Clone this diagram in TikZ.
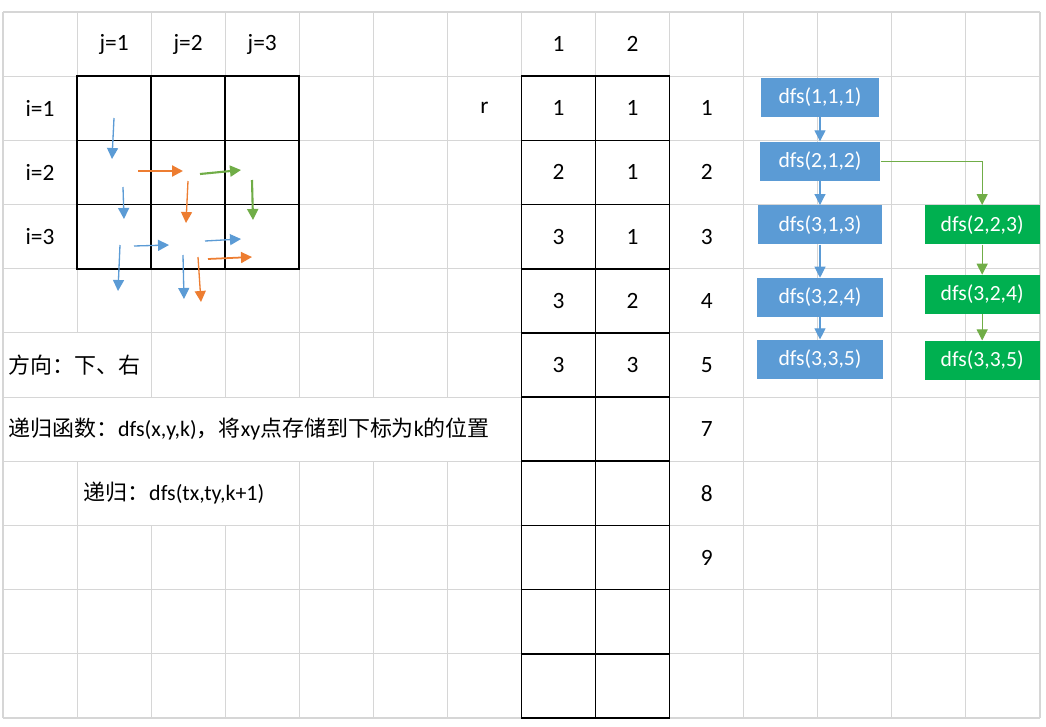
\documentclass[tikz,border=0pt]{standalone}
\usepackage{fontspec}
\setmainfont{Carlito}
\newfontfamily\cjk{Noto Sans CJK SC}
\usetikzlibrary{arrows.meta,positioning}
\definecolor{xlblue}{HTML}{5B9BD5}
\definecolor{xlorange}{HTML}{ED7D31}
\definecolor{xlgreen}{HTML}{70AD47}
\definecolor{boxgreen}{HTML}{00B050}
\definecolor{gridgray}{HTML}{D6D6D6}

\begin{document}
\begin{tikzpicture}[x=0.02cm, y=-0.02cm]
  \tikzset{
    gridline/.style={draw=gridgray, line width=0.6pt},
    tableline/.style={draw=black, line width=0.9pt},
    celltext/.style={inner sep=0pt, font=\fontsize{13.3}{15}\selectfont},
    notetext/.style={inner sep=0pt, anchor=west, font=\fontsize{12.5}{14}\selectfont},
    dfsbox/.style={rectangle, fill=xlblue, text=white, minimum height=0.78cm, inner sep=0pt, font=\fontsize{12.3}{14}\selectfont},
    dfsboxg/.style={dfsbox, fill=boxgreen, minimum width=2.3cm},
    myarrow/.style={-{Triangle[length=0.22cm, width=0.22cm]}, line width=0.75pt},
    bluelink/.style={myarrow, xlblue, line width=0.6pt},
    greenlink/.style={myarrow, xlgreen, line width=0.6pt},
    bluestroke/.style={myarrow, xlblue},
    orangestroke/.style={myarrow, xlorange},
    greenstroke/.style={myarrow, xlgreen, line width=1.2pt}
  }
  \useasboundingbox (0,0) rectangle (1046,727);
  \fill[white] (0,0) rectangle (1046,727);

  % sheet grid
  \foreach \r in {0,...,11}
    \draw[gridline] (3,{12+64.18*\r}) -- (1040,{12+64.18*\r});
  \foreach \c in {0,7,8,9,10,11,12,13,14}
    \draw[gridline] ({3+74.07*\c},12) -- ({3+74.07*\c},718);
  \draw[gridline] (77.07,12) -- (77.07,332.9) (77.07,461.26) -- (77.07,718);
  \foreach \c in {2,3}
    \draw[gridline] ({3+74.07*\c},12) -- ({3+74.07*\c},397.08) ({3+74.07*\c},525.44) -- ({3+74.07*\c},718);
  \foreach \c in {4,5,6}
    \draw[gridline] ({3+74.07*\c},12) -- ({3+74.07*\c},397.08) ({3+74.07*\c},461.26) -- ({3+74.07*\c},718);

  % black tables
  \draw[tableline] (77.07,76.18) rectangle (299.28,268.72);
  \draw[tableline] (151.14,76.18) -- (151.14,268.72) (225.21,76.18) -- (225.21,268.72)
    (77.07,140.36) -- (299.28,140.36) (77.07,204.54) -- (299.28,204.54);
  \draw[tableline] (521.49,76.18) rectangle (669.63,718);
  \draw[tableline] (595.56,76.18) -- (595.56,718);
  \foreach \r in {2,...,10}
    \draw[tableline] (521.49,{12+64.18*\r}) -- (669.63,{12+64.18*\r});

  % headers
  \node[celltext] (j1) at (114.1,44.1) {j=1};
  \node[celltext] (j2) at (188.2,44.1) {j=2};
  \node[celltext] (j3) at (262.2,44.1) {j=3};
  \node[celltext] (i1) at (40,108.3) {i=1};
  \node[celltext] (i2) at (40,172.4) {i=2};
  \node[celltext] (i3) at (40,236.6) {i=3};
  \node[celltext] (r-mark) at (484.5,108.3) {r};
  \node[celltext] (col-1) at (558.5,44.1) {1};
  \node[celltext] (col-2) at (632.6,44.1) {2};

  % stored points
  \node[celltext] (x-1) at (558.5,108.3) {1};
  \node[celltext] (y-1) at (632.6,108.3) {1};
  \node[celltext] (x-2) at (558.5,172.4) {2};
  \node[celltext] (y-2) at (632.6,172.4) {1};
  \node[celltext] (x-3) at (558.5,236.6) {3};
  \node[celltext] (y-3) at (632.6,236.6) {1};
  \node[celltext] (x-4) at (558.5,300.8) {3};
  \node[celltext] (y-4) at (632.6,300.8) {2};
  \node[celltext] (x-5) at (558.5,365) {3};
  \node[celltext] (y-5) at (632.6,365) {3};

  % index column
  \node[celltext] (k-1) at (706.7,108.3) {1};
  \node[celltext] (k-2) at (706.7,172.4) {2};
  \node[celltext] (k-3) at (706.7,236.6) {3};
  \node[celltext] (k-4) at (706.7,300.8) {4};
  \node[celltext] (k-5) at (706.7,365) {5};
  \node[celltext] (k-7) at (706.7,429.2) {7};
  \node[celltext] (k-8) at (706.7,493.4) {8};
  \node[celltext] (k-9) at (706.7,557.5) {9};

  % notes
  \node[notetext] (dir) at (8,365) {\cjk 方向：下、右};
  \node[notetext] (func) at (8,429.2) {{\cjk 递归函数：}dfs(x,y,k){\cjk ，将}xy{\cjk 点存储到下标为}k{\cjk 的位置}};
  \node[notetext] (rec) at (83,493.4) {{\cjk 递归：}dfs(tx,ty,k+1)};

  % moves in the 3x3 grid
  \draw[bluestroke] (114,118) -- (112,159);
  \draw[bluestroke] (123,187) -- (124,219);
  \draw[bluestroke] (120,245) -- (118,291);
  \draw[bluestroke] (134,246) -- (169,245);
  \draw[bluestroke] (205,241) -- (241,239);
  \draw[bluestroke] (183,255) -- (184,299);
  \draw[orangestroke, line width=1.3pt] (138,171) -- (183,171);
  \draw[orangestroke] (188,181) -- (186,223);
  \draw[orangestroke, line width=1pt] (208,259) -- (252,257);
  \draw[orangestroke] (198,257) -- (201,302);
  \draw[greenstroke] (200,174) -- (241,170);
  \draw[greenstroke] (252,180) -- (253,220);

  % recursion tree
  \node[dfsbox, minimum width=2.36cm] (dfs-111) at (820,97.5) {dfs(1,1,1)};
  \node[dfsbox, minimum width=2.42cm, below=0.48cm of dfs-111] (dfs-212) {dfs(2,1,2)};
  \node[dfsbox, minimum width=2.48cm, below=0.48cm of dfs-212] (dfs-313) {dfs(3,1,3)};
  \node[dfsbox, minimum width=2.52cm, below=0.66cm of dfs-313] (dfs-324) {dfs(3,2,4)};
  \node[dfsbox, minimum width=2.54cm, below=0.44cm of dfs-324] (dfs-335) {dfs(3,3,5)};
  \node[dfsboxg, right=0.84cm of dfs-313] (dfs-223) {dfs(2,2,3)};
  \node[dfsboxg, below=0.6cm of dfs-223] (dfs-324g) {dfs(3,2,4)};
  \node[dfsboxg, below=0.52cm of dfs-324g] (dfs-335g) {dfs(3,3,5)};

  \draw[bluelink] (dfs-111) -- (dfs-212);
  \draw[bluelink] (dfs-212) -- (dfs-313);
  \draw[bluelink] (dfs-313) -- (dfs-324);
  \draw[bluelink] (dfs-324) -- (dfs-335);
  \draw[greenlink] (dfs-212.east) -| (dfs-223.north);
  \draw[greenlink] (dfs-223) -- (dfs-324g);
  \draw[greenlink] (dfs-324g) -- (dfs-335g);
\end{tikzpicture}
\end{document}
